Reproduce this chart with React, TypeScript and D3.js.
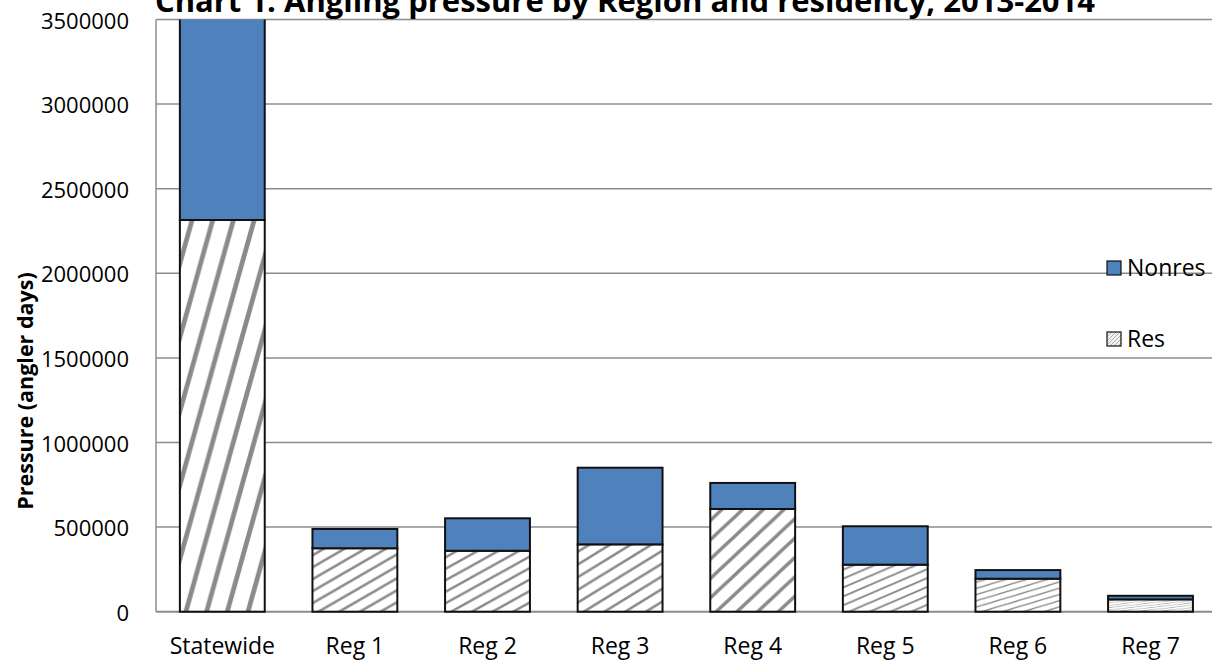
import { useEffect } from 'react';
import * as d3 from 'd3';

// Angling pressure (angler days) by region
const categories = ['Statewide', 'Reg 1', 'Reg 2', 'Reg 3', 'Reg 4', 'Reg 5', 'Reg 6', 'Reg 7'];
const resValues = [2315000, 375000, 360000, 398000, 607000, 278000, 195000, 73000];
const nonresValues = [1835000, 114000, 192000, 453000, 154000, 227000, 51000, 21000];
const yTicks = [0, 500000, 1000000, 1500000, 2000000, 2500000, 3000000, 3500000];

const W = 1212;
const H = 662;
const FONT = '"Open Sans", "Noto Sans", sans-serif';
const BLUE = '#4f81bd';
const HATCH = '#8a8a8a';

export default function App() {
  useEffect(() => {
    document.body.style.margin = '0';
  }, []);

  const plotLeft = 156;
  const plotTop = 19.5;
  const plotBottom = 611.7;
  const step = 132.6;

  const x = d3.scaleBand<string>()
    .domain(categories)
    .range([plotLeft, plotLeft + step * categories.length])
    .paddingInner(0.36)
    .paddingOuter(0.18);

  const y = d3.scaleLinear()
    .domain([0, 3500000])
    .range([plotBottom, plotTop]);

  const fmt = d3.format('d');
  const bw = x.bandwidth();
  const pw = 20.7;

  return (
    <svg width={W} height={H} style={{ display: 'block', background: '#fff' }} fontFamily={FONT}>
      <defs>
        <clipPath id="plot-clip">
          <rect x={plotLeft} y={plotTop} width={W - plotLeft} height={plotBottom - plotTop + 2} />
        </clipPath>
        {categories.map((c, i) => {
          const x0 = x(c)!;
          const h = plotBottom - y(resValues[i]);
          const s = h / 5.3 / pw;
          return (
            <pattern
              key={c}
              id={`hatch-${i}`}
              patternUnits="userSpaceOnUse"
              width={pw}
              height={pw}
              patternTransform={`translate(${x0 + 6},${plotBottom}) scale(1,${s})`}
            >
              <path
                d={`M0,${pw} L${pw},0 M${-pw / 2},${pw / 2} L${pw / 2},${-pw / 2} M${pw / 2},${pw * 1.5} L${pw * 1.5},${pw / 2}`}
                stroke={HATCH}
                strokeWidth={3.5}
                fill="none"
              />
            </pattern>
          );
        })}
        <pattern id="hatch-legend" patternUnits="userSpaceOnUse" width={4} height={4}>
          <rect width={4} height={4} fill="#f2f2f2" />
          <path d="M0,4 L4,0 M-1,1 L1,-1 M3,5 L5,3" stroke="#b0b0b0" strokeWidth={1} />
        </pattern>
      </defs>

      {/* gridlines */}
      {yTicks.map(t => (
        <line key={t} x1={plotLeft} x2={W} y1={y(t)} y2={y(t)} stroke="#8c8c8c" strokeWidth={t === 0 ? 2 : 1.5} />
      ))}
      <line x1={plotLeft} x2={plotLeft} y1={plotTop} y2={plotBottom} stroke="#8c8c8c" strokeWidth={1.5} />

      {/* y tick labels */}
      {yTicks.map(t => (
        <text key={t} x={129} y={y(t)} textAnchor="end" dominantBaseline="central" fontSize={22} fill="#000">
          {fmt(t)}
        </text>
      ))}

      {/* bars */}
      <g clipPath="url(#plot-clip)">
        {categories.map((c, i) => {
          const x0 = x(c)!;
          const yRes = y(resValues[i]);
          const yTot = y(resValues[i] + nonresValues[i]);
          return (
            <g key={c}>
              <rect x={x0} y={yRes} width={bw} height={plotBottom - yRes} fill="#fff" />
              <rect x={x0} y={yRes} width={bw} height={plotBottom - yRes} fill={`url(#hatch-${i})`} stroke="#111" strokeWidth={2} />
              <rect x={x0} y={yTot} width={bw} height={yRes - yTot} fill={BLUE} stroke="#111" strokeWidth={2} />
            </g>
          );
        })}
      </g>

      {/* x labels */}
      {categories.map(c => (
        <text key={c} x={x(c)! + bw / 2} y={654} textAnchor="middle" fontSize={23} fill="#000">
          {c}
        </text>
      ))}

      {/* y axis title */}
      <text
        transform={`translate(33,${391}) rotate(-90)`}
        textAnchor="middle"
        fontSize={21.5}
        fontWeight="bold"
        fill="#000"
      >
        Pressure (angler days)
      </text>

      {/* title */}
      <text x={625} y={12} textAnchor="middle" fontSize={31} fontWeight="bold" fill="#000">
        Chart 1. Angling pressure by Region and residency, 2013-2014
      </text>

      {/* legend */}
      <rect x={1107} y={261} width={14} height={14} fill={BLUE} stroke="#111" strokeWidth={1.2} />
      <text x={1127} y={276} fontSize={23} fill="#000">Nonres</text>
      <rect x={1107} y={332} width={14} height={14} fill="url(#hatch-legend)" stroke="#111" strokeWidth={1.2} />
      <text x={1127} y={347} fontSize={23} fill="#000">Res</text>
    </svg>
  );
}
